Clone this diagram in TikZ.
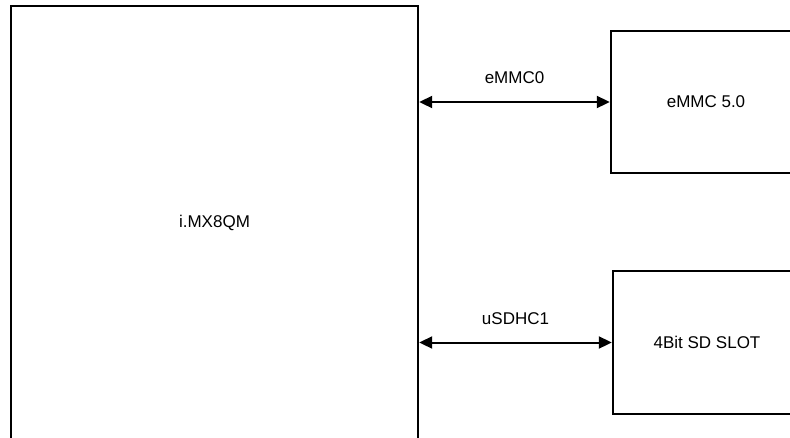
\documentclass[tikz,border=0pt]{standalone}
\usepackage{fontspec}
\setmainfont{Liberation Sans}
\usetikzlibrary{positioning,calc}
\usetikzlibrary{arrows.meta}
\definecolor{LineBlack}{RGB}{0,0,0}
\tikzset{
	blk/.style={draw=LineBlack,line width=2.4pt,fill=white,rectangle,inner sep=0pt,
		font=\fontsize{17}{20}\selectfont},
	link/.style={draw=LineBlack,line width=2pt,{Triangle[length=13pt,width=12pt]}-{Triangle[length=13pt,width=12pt]}},
	busname/.style={font=\fontsize{17}{20}\selectfont,above=14pt,midway},
}
\begin{document}
\begin{tikzpicture}[x=1pt,y=-1pt]
	\useasboundingbox (0,0) rectangle (790,437);
	\node[blk,minimum width=407pt,minimum height=433pt] (soc) at (214.5,222.5) {i.MX8QM};
	\node[blk,minimum width=190pt,minimum height=142pt] (emmc) at (706,102) {eMMC 5.0};
	\node[blk,minimum width=188pt,minimum height=143pt] (sd) at (707,342.5) {4Bit SD SLOT};
	\draw[link] (emmc.west -| soc.east) -- node[busname] {eMMC0} (emmc.west);
	\draw[link] (sd.west -| soc.east) -- node[busname] {uSDHC1} (sd.west);
\end{tikzpicture}
\end{document}
